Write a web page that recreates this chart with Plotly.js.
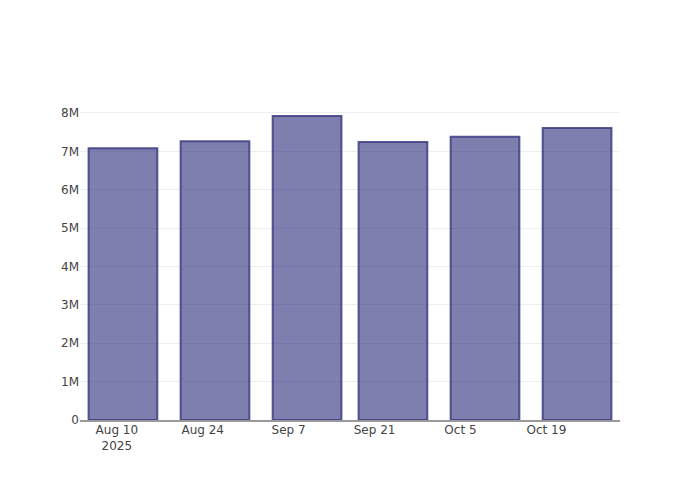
<!DOCTYPE html>
<html>
<head>
<meta charset="utf-8">
<script src="https://cdn.plot.ly/plotly-3.0.1.min.js"></script>
<style>html,body{margin:0;padding:0;background:#fff;}#chart{width:700px;height:500px;}</style>
</head>
<body>
<div id="chart"></div>
<script>
const dates = ["2025-08-11", "2025-08-26", "2025-09-10", "2025-09-24", "2025-10-09", "2025-10-24"];
const values = [7080000, 7260000, 7920000, 7240000, 7380000, 7610000];

const trace = {
  type: "bar",
  x: dates,
  y: values,
  marker: {
    color: "rgba(50,50,128,0.63)",
    line: {color: "rgba(60,60,130,0.85)", width: 2}
  },
  hoverinfo: "x+y"
};

const layout = {
  width: 700,
  height: 500,
  margin: {l: 80, r: 80, t: 100, b: 80},
  paper_bgcolor: "#fff",
  plot_bgcolor: "#fff",
  font: {family: "'DejaVu Sans', verdana, arial, sans-serif", size: 12, color: "#444"},
  showlegend: false,
  xaxis: {
    type: "date",
    showgrid: false,
    showline: true,
    linecolor: "#999",
    linewidth: 1.5,
    zeroline: false,
    dtick: 14 * 24 * 3600 * 1000,
    tick0: "2025-08-10",
    ticklabelstandoff: -2
  },
  yaxis: {
    showgrid: true,
    gridcolor: "#eee",
    zeroline: false,
    showline: false,
    dtick: 1000000,
    tickformat: "~s"
  }
};

Plotly.newPlot("chart", [trace], layout, {displayModeBar: false});
</script>
</body>
</html>
